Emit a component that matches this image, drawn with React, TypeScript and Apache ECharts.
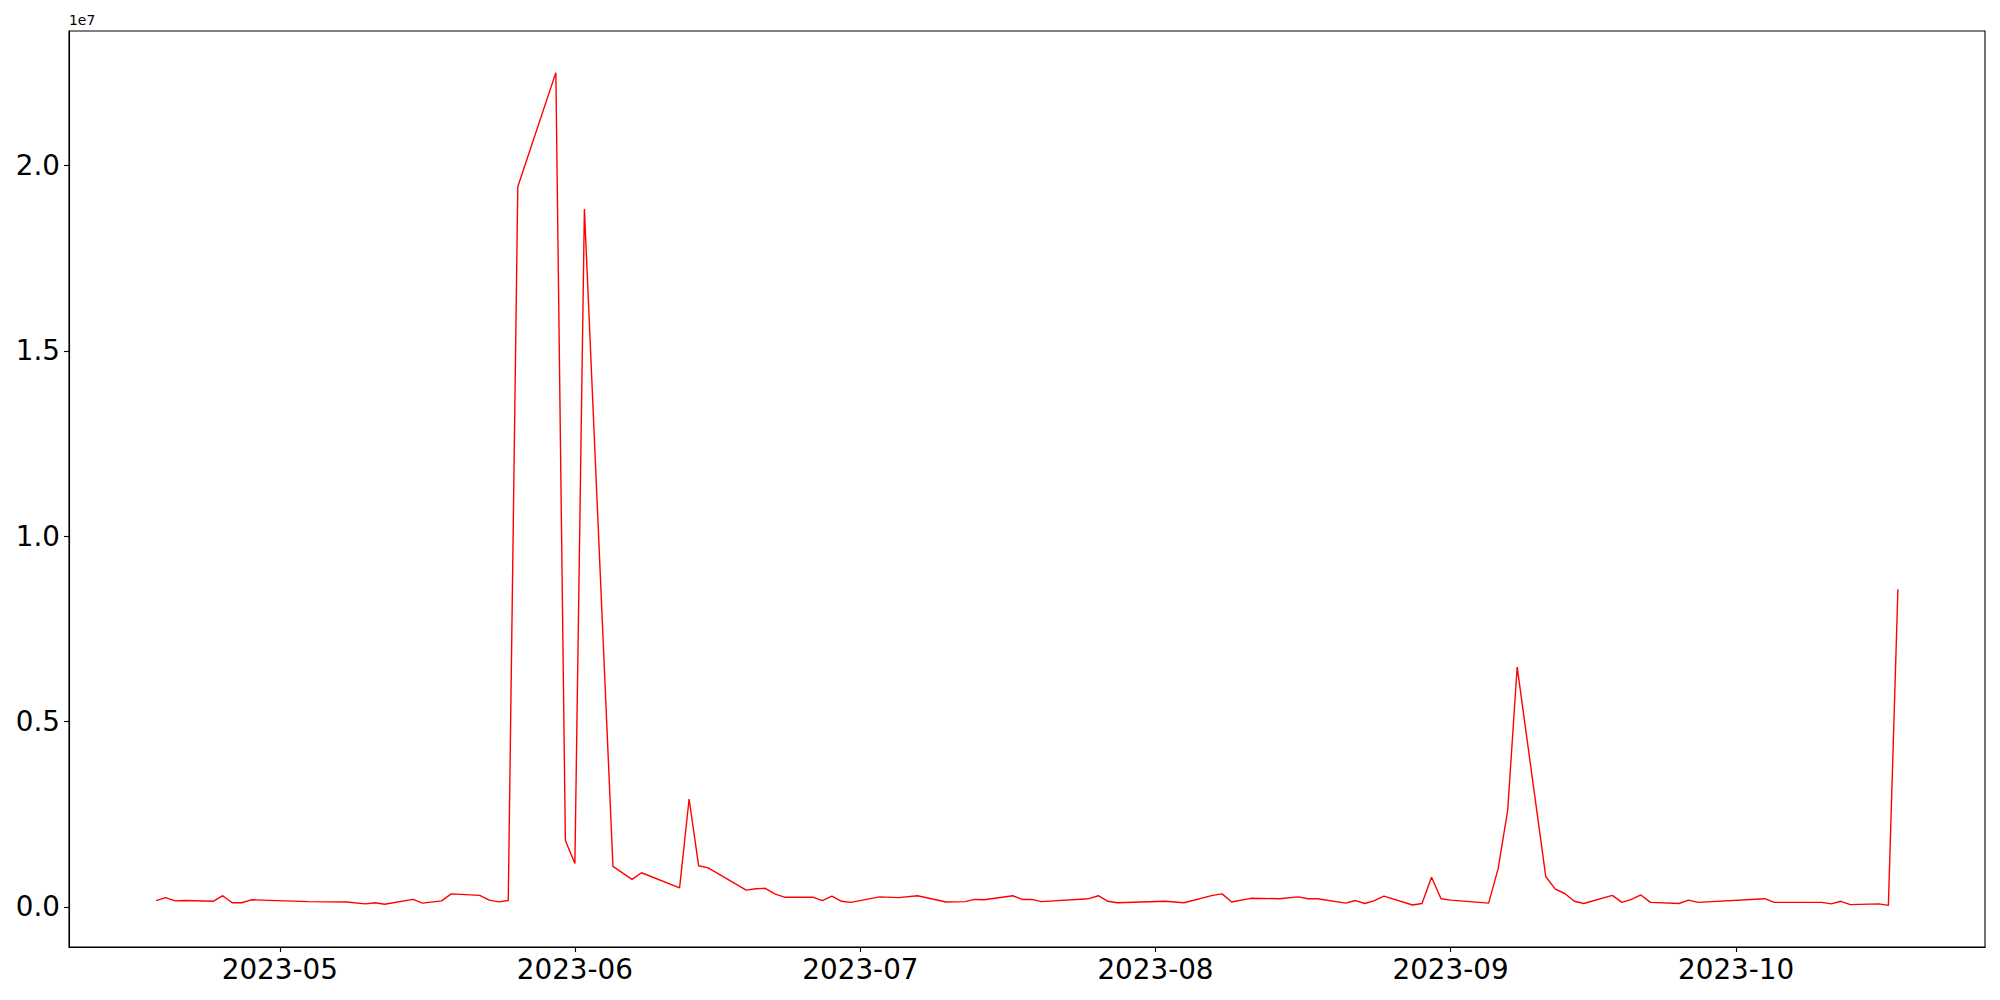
import React, { useEffect, useRef } from "react";
import * as echarts from "echarts";

const dates: string[] = [
  "2023-04-18", "2023-04-19", "2023-04-20", "2023-04-21", "2023-04-24", "2023-04-25", "2023-04-26", "2023-04-27", "2023-04-28",
  "2023-05-04", "2023-05-08", "2023-05-10", "2023-05-11", "2023-05-12", "2023-05-15", "2023-05-16", "2023-05-18", "2023-05-19",
  "2023-05-22", "2023-05-23", "2023-05-24", "2023-05-25", "2023-05-26", "2023-05-30", "2023-05-31",
  "2023-06-01", "2023-06-02", "2023-06-05", "2023-06-07", "2023-06-08", "2023-06-12", "2023-06-13", "2023-06-14", "2023-06-15",
  "2023-06-19", "2023-06-20", "2023-06-21", "2023-06-22", "2023-06-23", "2023-06-26", "2023-06-27", "2023-06-28", "2023-06-29", "2023-06-30",
  "2023-07-03", "2023-07-05", "2023-07-07", "2023-07-10", "2023-07-12", "2023-07-13", "2023-07-14", "2023-07-17", "2023-07-18",
  "2023-07-19", "2023-07-20", "2023-07-25", "2023-07-26", "2023-07-27", "2023-07-28",
  "2023-08-02", "2023-08-04", "2023-08-07", "2023-08-08", "2023-08-09", "2023-08-11", "2023-08-14", "2023-08-16", "2023-08-17",
  "2023-08-18", "2023-08-21", "2023-08-22", "2023-08-23", "2023-08-24", "2023-08-25", "2023-08-28", "2023-08-29", "2023-08-30", "2023-08-31",
  "2023-09-01", "2023-09-05", "2023-09-06", "2023-09-07", "2023-09-08", "2023-09-11", "2023-09-12", "2023-09-13", "2023-09-14", "2023-09-15",
  "2023-09-18", "2023-09-19", "2023-09-20", "2023-09-21", "2023-09-22", "2023-09-25", "2023-09-26", "2023-09-27",
  "2023-10-04", "2023-10-05", "2023-10-10", "2023-10-11", "2023-10-12", "2023-10-13", "2023-10-16", "2023-10-17", "2023-10-18",
];

const values: number[] = [
  170000, 250000, 160000, 170000, 150000, 300000, 110000, 110000, 190000,
  140000, 130000, 80000, 110000, 70000, 200000, 100000, 160000, 350000,
  310000, 180000, 135000, 170000, 19430000, 22510000, 1790000,
  1170000, 18830000, 1090000, 740000, 920000, 510000, 2910000, 1110000, 1050000,
  450000, 490000, 500000, 350000, 260000, 260000, 170000, 290000, 150000, 120000,
  270000, 250000, 300000, 130000, 140000, 200000, 190000, 300000, 200000,
  200000, 140000, 220000, 300000, 150000, 110000,
  150000, 110000, 310000, 350000, 130000, 230000, 220000, 270000, 220000,
  220000, 100000, 170000, 90000, 170000, 290000, 50000, 90000, 800000, 220000,
  180000, 100000, 1030000, 2600000, 6470000, 820000, 480000, 360000, 150000, 90000,
  310000, 120000, 200000, 320000, 120000, 90000, 180000, 120000,
  220000, 120000, 120000, 80000, 150000, 60000, 80000, 40000, 8570000,
];

const monthTicks: string[] = ["2023-05-01", "2023-06-01", "2023-07-01", "2023-08-01", "2023-09-01", "2023-10-01"];
const yTicks: number[] = [0, 5e6, 1e7, 1.5e7, 2e7];
const offsetText = "1e7";

function toTs(s: string): number {
  const [y, m, d] = s.split("-").map(Number);
  return Date.UTC(y, m - 1, d);
}

function fmtMonth(v: number): string {
  const d = new Date(v);
  return `${d.getUTCFullYear()}-${String(d.getUTCMonth() + 1).padStart(2, "0")}`;
}

export default function App() {
  const ref = useRef<HTMLDivElement>(null);

  useEffect(() => {
    if (!ref.current) return;
    const chart = echarts.init(ref.current, null, { renderer: "svg" });

    const xs = dates.map(toTs);
    const xMinD = Math.min(...xs);
    const xMaxD = Math.max(...xs);
    const xPad = (xMaxD - xMinD) * 0.05;
    const yMinD = Math.min(...values);
    const yMaxD = Math.max(...values);
    const yPad = (yMaxD - yMinD) * 0.05;

    const font = "DejaVu Sans";
    const monthTs = monthTicks.map(toTs);

    chart.setOption({
      animation: false,
      backgroundColor: "#ffffff",
      grid: {
        left: 69,
        top: 31,
        right: 15,
        bottom: 53,
        show: true,
        borderColor: "#000000",
        borderWidth: 1.1,
        backgroundColor: "transparent",
      },
      xAxis: {
        type: "value",
        min: xMinD - xPad,
        max: xMaxD + xPad,
        axisLine: { show: true, onZero: false, lineStyle: { color: "#000000", width: 1.1 } },
        axisTick: {
          show: true,
          inside: false,
          length: 5,
          customValues: monthTs,
          lineStyle: { color: "#000000", width: 1.1 },
        },
        axisLabel: {
          show: true,
          customValues: monthTs,
          margin: 8,
          fontSize: 27.8,
          fontFamily: font,
          color: "#000000",
          hideOverlap: false,
          formatter: (v: number) => fmtMonth(v),
        },
        splitLine: { show: false },
        minorTick: { show: false },
      },
      yAxis: {
        type: "value",
        min: yMinD - yPad,
        max: yMaxD + yPad,
        axisLine: { show: true, onZero: false, lineStyle: { color: "#000000", width: 1.1 } },
        axisTick: {
          show: true,
          inside: false,
          length: 5,
          customValues: yTicks,
          lineStyle: { color: "#000000", width: 1.1 },
        },
        axisLabel: {
          show: true,
          customValues: yTicks,
          margin: 9,
          fontSize: 27.8,
          fontFamily: font,
          color: "#000000",
          formatter: (v: number) => (v / 1e7).toFixed(1),
        },
        splitLine: { show: false },
      },
      graphic: [
        {
          type: "text",
          left: 69,
          top: 13,
          style: { text: offsetText, fontSize: 13.9, fontFamily: font, fill: "#000000" },
        },
      ],
      series: [
        {
          type: "line",
          data: xs.map((x, i) => [x, values[i]]),
          showSymbol: false,
          symbol: "none",
          lineStyle: { color: "#ff0000", width: 1.4 },
          itemStyle: { color: "#ff0000" },
          emphasis: { disabled: true },
        },
      ],
    });

    return () => chart.dispose();
  }, []);

  return (
    <div
      ref={ref}
      style={{ position: "fixed", left: 0, top: 0, width: 2000, height: 1000, background: "#ffffff" }}
    />
  );
}
